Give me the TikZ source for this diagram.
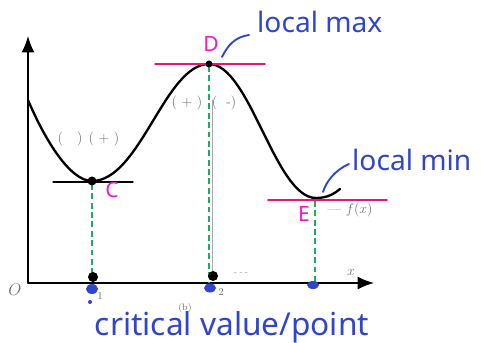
\documentclass[tikz,border=0pt]{standalone}
\usepackage{fontspec}
\usepackage{tikz}
\usepackage{xcolor}
\usetikzlibrary{arrows.meta,positioning}
\newfontfamily\handfont{Noto Sans}
\definecolor{inkblue}{RGB}{48,68,206}
\definecolor{inkpink}{RGB}{236,22,110}
\definecolor{inkmag}{RGB}{250,20,200}
\definecolor{dashgreen}{RGB}{28,172,100}
\definecolor{scangray}{RGB}{110,110,110}

\begin{document}
\begin{tikzpicture}[x=0.03cm, y=-0.03cm, >=Latex, line cap=round, line join=round,
  hand/.style={inkblue, font=\handfont\fontsize{24}{28}\selectfont, inner sep=0pt},
  letter/.style={inkmag, font=\handfont\bfseries\fontsize{18}{21}\selectfont, inner sep=0pt},
  faint/.style={scangray, font=\large, inner sep=0pt},
  drop/.style={dashgreen, dashed, line width=1.6pt, dash pattern=on 5pt off 3pt, line cap=butt},
  tangent/.style={inkpink, line width=1.5pt}]
  \useasboundingbox (0,0) rectangle (482,343);
  \coordinate (O) at (28,283);
  \coordinate (Ytip) at (28,36);
  \coordinate (Xtip) at (374,283);
  \coordinate (C) at (92,181);
  \coordinate (D) at (209,64);
  \coordinate (E) at (316,198);

  % axes
  \draw[line width=1.2pt, -{Latex[length=14pt,width=11pt]}] (O) -- (Ytip);
  \draw[line width=1.2pt, -{Latex[length=14pt,width=11pt]}] (O) -- (Xtip);
  \node[faint, font=\Large] (lblO) at (15,290) {$O$};
  \node[faint] (lblx) at (351,272) {$x$};

  % the graph
  \draw[line width=2pt] (28,100) .. controls (45,140) and (70,181) .. (C)
    .. controls (140,181) and (165,64) .. (D)
    .. controls (250,64) and (275,198) .. (E)
    .. controls (327,198) and (334,194) .. (340,189);

  % tangents
  \draw[line width=1pt] (53,182) -- (133,182);
  \draw[tangent] (155,64) -- (265,64);
  \draw[tangent] (268,200) -- (387,200);

  % drop lines
  \draw[scangray!60, line width=0.6pt] (212,100) -- (212,272);
  \draw[drop] (92,184) -- (92,281);
  \draw[drop] (209,66) -- (209,282);
  \draw[drop] (315,201) -- (315,282);

  % points
  \fill (C) circle (4.5);
  \fill (D) circle (3.5);
  \fill (93,277) circle (5);
  \fill (213,276) circle (5);
  \fill[inkblue] (92,289) ellipse (6 and 5);
  \fill[inkblue] (90,302) circle (2);
  \fill[inkblue] (210,288) ellipse (6 and 4.5);
  \fill[inkblue] (313,285) ellipse (6 and 4);

  % sign labels
  \node[faint] (sgn1) at (70,139) {(\quad)};
  \node[faint] (sgn2) at (104,139) {( + )};
  \node[faint] (sgn3) at (187,103) {( + )};
  \node[faint] (sgn4) at (224,103) {( \ -)};
  \node[faint] (fx) at (350,210) {--- $f(x)$};
  \node[faint] (sub1) at (100,296) {\small 1};
  \node[faint] (sub2) at (221,292) {\small 2};
  \node[faint] (dots) at (241,274) {\tiny - - -};
  \node[faint] (lblb) at (185,308) {\footnotesize (b)};

  % handwritten notes
  \node[letter] (lblD) at (211,44) {D};
  \node[letter] (lblC) at (112,190) {C};
  \node[letter] (lblE) at (304,214) {E};
  \node[hand, anchor=west] (maxnote) at (257,22) {local max};
  \node[hand, anchor=west] (minnote) at (352,160) {local min};
  \node[hand, font=\handfont\fontsize{27}{30}\selectfont] (critnote) at (232,327) {critical value/point};
  \coordinate (maxend) at (222,57);
  \coordinate (minend) at (323,192);
  \draw[inkblue, line width=1.6pt] (maxnote.west) ++(-8,13) .. controls (235,37) and (228,45) .. (maxend);
  \draw[inkblue, line width=1.6pt] (minnote.west) ++(-3,4) .. controls (335,170) and (326,182) .. (minend);
\end{tikzpicture}
\end{document}
